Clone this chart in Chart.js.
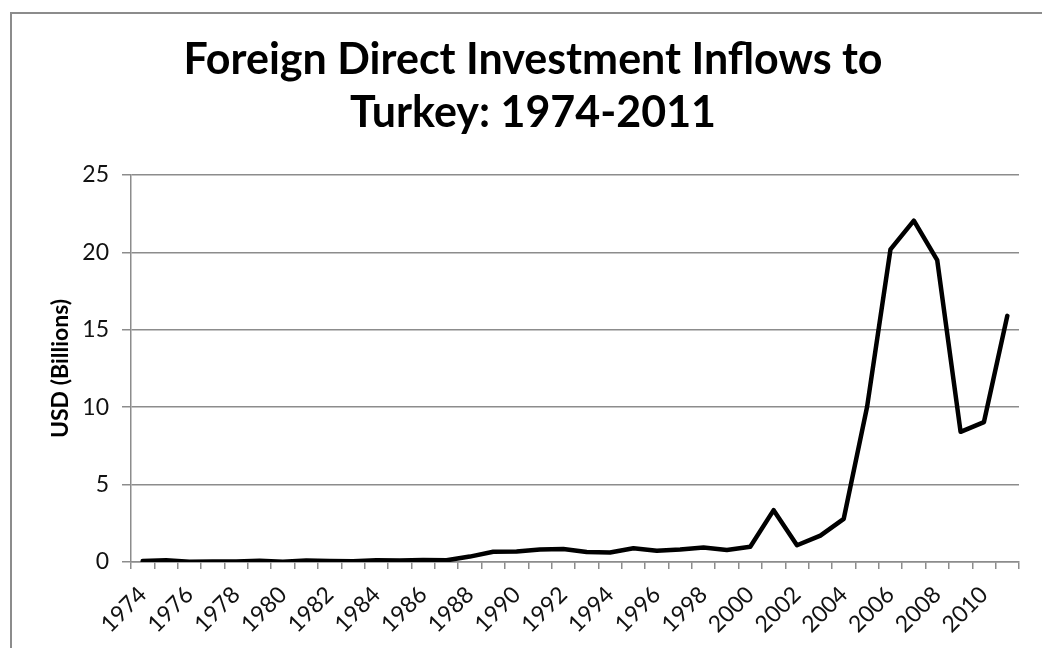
<!DOCTYPE html>
<html>
<head>
<meta charset="utf-8">
<script src="https://cdn.jsdelivr.net/npm/chart.js@4"></script>
<style>
  body { margin: 0; background: #fff; }
  #wrap { position: relative; width: 1042px; height: 648px; overflow: hidden; }
  #frame { position: absolute; left: 10px; top: 12px; width: 1100px; height: 700px;
           border-top: 2px solid #8c8c8c; border-left: 2px solid #8c8c8c; }
  #myChart { position: absolute; left: 0; top: 0; }
</style>
</head>
<body>
<div id="wrap">
  <div id="frame"></div>
  <canvas id="myChart" width="1042" height="648"></canvas>
</div>
<script>
// years on the x axis
var years = ['1974','1975','1976','1977','1978','1979','1980','1981','1982','1983',
  '1984','1985','1986','1987','1988','1989','1990','1991','1992','1993',
  '1994','1995','1996','1997','1998','1999','2000','2001','2002','2003',
  '2004','2005','2006','2007','2008','2009','2010','2011'];

// FDI inflows, USD billions
var fdi = [0.06, 0.11, 0.01, 0.03, 0.03, 0.08, 0.02, 0.10, 0.06, 0.05,
  0.11, 0.10, 0.13, 0.11, 0.35, 0.66, 0.68, 0.81, 0.84, 0.64,
  0.61, 0.89, 0.72, 0.81, 0.94, 0.78, 0.98, 3.35, 1.08, 1.70,
  2.79, 10.03, 20.19, 22.05, 19.50, 8.41, 9.04, 15.90];

var yTicks = [0, 5, 10, 15, 20, 25];

var grey = '#8c8c8c';
var fontFam = 'Lato, "DejaVu Sans", sans-serif';

var ctx = document.getElementById('myChart').getContext('2d');
var chart = new Chart(ctx, {
  type: 'line',
  data: {
    labels: years,
    datasets: [{
      data: fdi,
      borderColor: '#000',
      borderWidth: 4.5,
      borderJoinStyle: 'round',
      borderCapStyle: 'round',
      pointRadius: 0,
      tension: 0,
      fill: false
    }]
  },
  options: {
    responsive: false,
    animation: false,
    // left padding keeps the title centred where the original has it
    layout: { padding: { left: 47, right: 23, top: 0, bottom: 0 } },
    plugins: {
      legend: { display: false },
      tooltip: { enabled: false },
      title: {
        display: true,
        text: ['Foreign Direct Investment Inflows to', 'Turkey: 1974-2011'],
        color: '#000',
        font: { family: fontFam, size: 43, weight: 'bold', lineHeight: 1.244 },
        padding: { top: 33, bottom: 35 }
      }
    },
    scales: {
      x: {
        offset: true,
        grid: { display: true, drawOnChartArea: false, offset: true, tickLength: 7, color: grey, lineWidth: 1.5 },
        border: { display: true, color: grey, width: 1.5 },
        ticks: {
          autoSkip: false,
          minRotation: 45,
          maxRotation: 45,
          padding: 12,
          color: '#111',
          font: { family: fontFam, size: 23 },
          callback: function (value, index) {
            return index % 2 === 0 ? years[index] : '';
          }
        },
        afterFit: function (scale) { scale.height = 86; }
      },
      y: {
        min: 0,
        max: 25,
        afterBuildTicks: function (scale) {
          scale.ticks = yTicks.map(function (v) { return { value: v }; });
        },
        grid: { color: grey, lineWidth: 1.5, tickLength: 9 },
        border: { display: true, color: grey, width: 1.5 },
        ticks: {
          padding: 13,
          color: '#111',
          font: { family: fontFam, size: 23 }
        },
        title: {
          display: true,
          text: 'USD (Billions)',
          color: '#000',
          font: { family: fontFam, size: 23, weight: 'bold', lineHeight: 1.2 },
          padding: { top: 0, bottom: 0 }
        },
        afterFit: function (scale) { scale.width = 84; }
      }
    }
  }
});
</script>
</body>
</html>
